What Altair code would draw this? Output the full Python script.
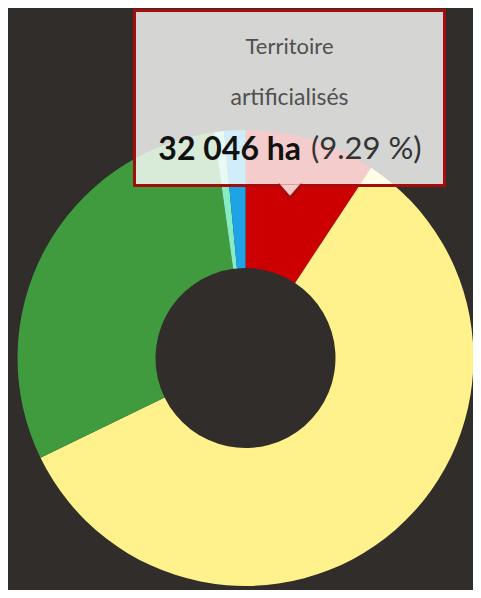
import altair as alt
import pandas as pd

# ---- data ----
categories = [
    "Territoires artificialisés",
    "Territoires agricoles",
    "Forêts et milieux semi-naturels",
    "Zones humides",
    "Surfaces en eau",
]
surface_ha = [32046, 201800, 103500, 2400, 5200]
slice_colors = ["#cc0000", "#fff28c", "#3f9b3e", "#86ecc4", "#1ea3e6"]

tooltip_lines = ["Territoire", "artificialisés"]
tooltip_value = "32 046 ha"
tooltip_share = "(9.29 %)"

BG = "#312d2b"
df = pd.DataFrame({"categorie": categories, "surface": surface_ha, "ordre": list(range(len(categories)))})
one = pd.DataFrame({"k": [0]})

cx, cy = 237.5, 350

donut = alt.Chart(df).mark_arc(outerRadius=228, innerRadius=90, strokeWidth=0).encode(
    theta=alt.Theta("surface:Q", stack=True),
    color=alt.Color("categorie:N", scale=alt.Scale(domain=categories, range=slice_colors), legend=None),
    order=alt.Order("ordre:Q"),
    x=alt.value(cx),
    y=alt.value(cy),
)

box = alt.Chart(one).mark_rect(fill="white", fillOpacity=0.8, stroke="#a50c0c", strokeWidth=3).encode(
    x=alt.value(126.5), x2=alt.value(436.5), y=alt.value(2.5), y2=alt.value(177.5)
)

notch = alt.Chart(one).mark_point(
    shape="M-1,-0.15L0,1L1,-0.15", size=576, filled=True, fill="#f5cccc", fillOpacity=1,
    stroke="#a50c0c", strokeWidth=3, opacity=1
).encode(x=alt.value(282), y=alt.value(178))

line1 = alt.Chart(one).mark_text(font="Lato", fontSize=22, color="#505050", align="center", baseline="middle").encode(
    x=alt.value(281.5), y=alt.value(39), text=alt.value(tooltip_lines[0])
)
line2 = alt.Chart(one).mark_text(font="Lato", fontSize=23, color="#505050", align="center", baseline="middle").encode(
    x=alt.value(281.5), y=alt.value(90), text=alt.value(tooltip_lines[1])
)
val = alt.Chart(one).mark_text(font="Lato", fontSize=32, fontWeight="bold", color="#111111", align="right", baseline="middle").encode(
    x=alt.value(293), y=alt.value(142), text=alt.value(tooltip_value)
)
share = alt.Chart(one).mark_text(font="Lato", fontSize=31, color="#333333", align="left", baseline="middle").encode(
    x=alt.value(303), y=alt.value(142), text=alt.value(tooltip_share)
)

chart = alt.layer(donut, box, notch, line1, line2, val, share).properties(
    width=465, height=582, autosize=alt.AutoSizeParams(type="none"), padding=0, background=BG
).configure_view(stroke=None)

chart.save("out.html", embed_options={"renderer": "svg", "actions": False})
